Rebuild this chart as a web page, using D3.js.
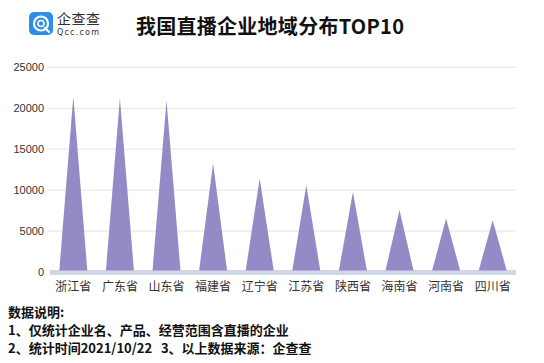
<!DOCTYPE html>
<html><head><meta charset="utf-8">
<script src="https://cdn.jsdelivr.net/npm/d3@7"></script>
<style>body{margin:0;background:#fff}svg{display:block}text{white-space:pre}</style>
</head><body>
<script>
const categories = ["浙江省","广东省","山东省","福建省","辽宁省","江苏省","陕西省","海南省","河南省","四川省"];
const values = [21450, 21250, 20960, 13260, 11430, 10580, 9770, 7580, 6530, 6330];
const yTicks = [0, 5000, 10000, 15000, 20000, 25000];
const title = "我国直播企业地域分布TOP10";
const notes = ["数据说明:", "1、仅统计企业名、产品、经营范围含直播的企业", "2、统计时间2021/10/22   3、以上数据来源：企查查"];

const W = 544, H = 363;
const svg = d3.select("body").append("svg").attr("width", W).attr("height", H);
const font = "'Noto Sans CJK SC','Noto Sans',sans-serif";

// logo
const lg = svg.append("g");
lg.append("rect").attr("x",29).attr("y",12).attr("width",24).attr("height",23).attr("rx",5).attr("fill","#2b8fe6");
lg.append("circle").attr("cx",41).attr("cy",23.5).attr("r",7).attr("fill","none").attr("stroke","#fff").attr("stroke-width",2.2);
lg.append("circle").attr("cx",41).attr("cy",23.5).attr("r",3).attr("fill","none").attr("stroke","#fff").attr("stroke-width",1.6);
lg.append("line").attr("x1",45).attr("y1",28).attr("x2",49).attr("y2",32).attr("stroke","#fff").attr("stroke-width",2.2).attr("stroke-linecap","round");
lg.append("text").attr("x",57).attr("y",24).attr("font-family",font).attr("font-size",14).attr("fill","#333").attr("textLength",43).text("企查查");
lg.append("text").attr("x",57).attr("y",35).attr("font-family","'DejaVu Sans',sans-serif").attr("font-size",8).attr("fill","#333").attr("textLength",43).attr("letter-spacing",1).text("Qcc.com");

svg.append("text").attr("x",136).attr("y",34).attr("font-family",font).attr("font-size",20).attr("font-weight","bold").attr("fill","#111").attr("textLength",268).text(title);

const x = d3.scaleBand().domain(categories).range([50, 516]).padding(0);
const y = d3.scaleLinear().domain([0, 25000]).range([272, 67.3]);

// gridlines
svg.append("g").selectAll("line").data(yTicks.slice(1)).join("line")
  .attr("x1",47).attr("x2",516).attr("y1",d=>y(d)).attr("y2",d=>y(d))
  .attr("stroke","#e4e4e4").attr("stroke-width",1);

// y axis labels
const yAxis = d3.axisLeft(y).tickValues(yTicks).tickSize(0).tickPadding(0).tickFormat(d3.format("d"));
const ya = svg.append("g").attr("transform","translate(44,0)").call(yAxis);
ya.select(".domain").remove();
ya.selectAll("text").attr("font-family","'Liberation Sans',Arial,sans-serif").attr("font-size",11).attr("fill","#333");

// base band
svg.append("rect").attr("x",50).attr("y",270).attr("width",466).attr("height",5).attr("fill","#cdd7e8");

// triangles
const hw = x.bandwidth()*0.3;
svg.append("g").selectAll("path").data(values).join("path")
  .attr("d",(d,i)=>{const c = x(categories[i]) + x.bandwidth()/2;
    return `M${c-hw},${y(0)-1.5}L${c},${y(d)}L${c+hw},${y(0)-1.5}Z`;})
  .attr("fill","#948bc6");

// x labels
const xAxis = d3.axisBottom(x).tickSize(0).tickPadding(0);
const xa = svg.append("g").attr("transform","translate(0,282)").call(xAxis);
xa.select(".domain").remove();
xa.selectAll("text").attr("font-family",font).attr("font-size",12).attr("fill","#333").attr("dy","0.71em");

// notes
svg.append("g").selectAll("text").data(notes).join("text")
  .attr("x",8).attr("y",(d,i)=>317+i*18)
  .attr("font-family",font).attr("font-size",13).attr("font-weight","bold").attr("fill","#111")
  .text(d=>d);
</script>
</body></html>
